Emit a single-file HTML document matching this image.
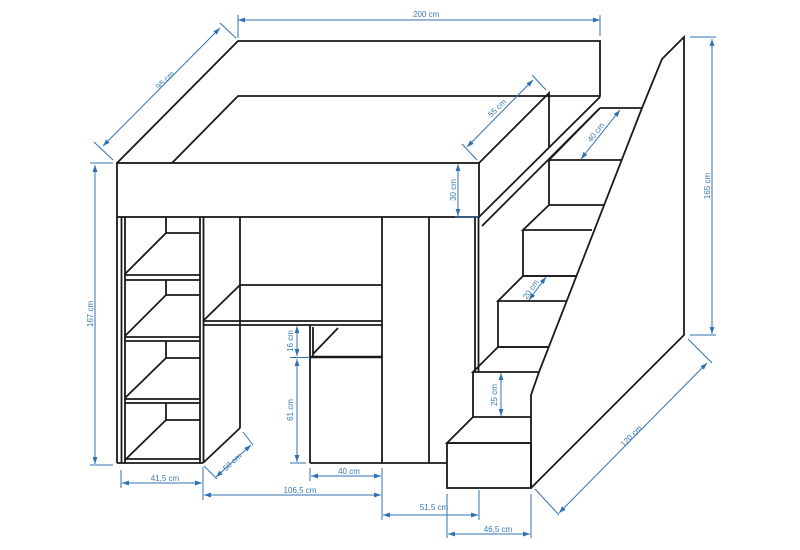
<!DOCTYPE html>
<html><head><meta charset="utf-8"><style>
html,body{margin:0;padding:0;background:#fff;}
svg{display:block;}
text{font-family:"Liberation Sans",sans-serif;font-size:8px;fill:#3a78b5;}
</style></head><body>
<svg width="800" height="550" viewBox="0 0 800 550" xmlns="http://www.w3.org/2000/svg">
<defs>
<marker id="a" viewBox="0 0 10 10" refX="10" refY="5" markerWidth="7" markerHeight="7" orient="auto-start-reverse"><path d="M0,1.5 L10,5 L0,8.5 Z" fill="#2f72b3"/></marker>
</defs>
<g fill="none" stroke="#1a1a1a" stroke-width="1.8" stroke-linejoin="miter">
<!-- top bed -->
<rect x="117" y="163" width="362" height="54"/>
<polyline points="117,163 238,41 600,41 600,96 238,96 172,163"/>
<polyline points="479,163 549,93 549,147"/>
<line x1="479" y1="217" x2="600" y2="97"/>
<line x1="482" y1="226" x2="600" y2="108"/>
<!-- stairs side -->
<polyline points="600,108 642,108 662,59 684,37 684,335 531,488"/>
<polyline points="642,108 539,372 531,395 531,488"/>
<!-- steps -->
<polyline points="600,108 549,160 622,160"/>
<polyline points="549,160 549,205 604,205"/>
<polyline points="549,205 523,230 592,230"/>
<polyline points="523,230 523,276 577,276"/>
<polyline points="577,276 548,276 523,276 498,301 567,301"/>
<polyline points="498,301 498,347 548,347"/>
<polyline points="548,347 498,347 473,372 539,372"/>
<polyline points="473,372 473,417 531,417"/>
<polyline points="473,417 447,443 531,443"/>
<rect x="447" y="443" width="84" height="45"/>
<line x1="475" y1="217" x2="475" y2="372"/>
<line x1="478.5" y1="217" x2="478.5" y2="372"/>
<!-- left shelf -->
<line x1="117" y1="217" x2="117" y2="463"/>
<line x1="121.5" y1="217" x2="121.5" y2="463"/>
<line x1="125" y1="217" x2="125" y2="463"/>
<line x1="200" y1="217" x2="200" y2="463"/>
<line x1="203.5" y1="217" x2="203.5" y2="463"/>
<line x1="117" y1="463" x2="203" y2="463"/>
<line x1="125" y1="459" x2="200" y2="459"/>
<line x1="125" y1="275" x2="200" y2="275"/><line x1="125" y1="280" x2="200" y2="280"/>
<line x1="125" y1="337" x2="200" y2="337"/><line x1="125" y1="341" x2="200" y2="341"/>
<line x1="125" y1="399" x2="200" y2="399"/><line x1="125" y1="403" x2="200" y2="403"/>
<polyline points="166,217 166,233 200,233"/><line x1="166" y1="233" x2="125" y2="274"/>
<polyline points="166,280 166,295 200,295"/><line x1="166" y1="295" x2="125" y2="336"/>
<polyline points="166,341 166,358 200,358"/><line x1="166" y1="358" x2="125" y2="398"/>
<polyline points="166,403 166,420 200,420"/><line x1="166" y1="420" x2="125" y2="460"/>
<!-- desk -->
<line x1="240" y1="217" x2="240" y2="428"/>
<line x1="240" y1="428" x2="203" y2="463"/>
<line x1="240" y1="285" x2="382" y2="285"/>
<line x1="240" y1="285" x2="203" y2="321"/>
<line x1="203" y1="321" x2="382" y2="321"/>
<line x1="203" y1="325" x2="382" y2="325"/>
<line x1="382" y1="217" x2="382" y2="463"/>
<line x1="429" y1="217" x2="429" y2="463"/>
<line x1="310" y1="325" x2="310" y2="463"/>
<line x1="313" y1="327" x2="313" y2="357"/>
<line x1="310" y1="357" x2="382" y2="357" stroke-width="2.6"/>
<line x1="338" y1="328" x2="313" y2="354"/>
<line x1="310" y1="463" x2="447" y2="463"/>
</g>
<g stroke="#2f72b3" stroke-width="1" fill="none">
<!-- 200 -->
<line x1="238" y1="20" x2="600" y2="20" marker-start="url(#a)" marker-end="url(#a)"/>
<line x1="238" y1="15" x2="238" y2="38"/><line x1="600" y1="15" x2="600" y2="36"/>
<!-- 95 -->
<line x1="103" y1="146" x2="220" y2="28" marker-start="url(#a)" marker-end="url(#a)"/>
<line x1="94" y1="142" x2="113" y2="160"/><line x1="220" y1="23" x2="236" y2="38"/>
<!-- 167 -->
<line x1="95" y1="165" x2="95" y2="464" marker-start="url(#a)" marker-end="url(#a)"/>
<line x1="90" y1="163" x2="113" y2="163"/><line x1="90" y1="465" x2="113" y2="465"/>
<!-- 30 -->
<line x1="458" y1="164" x2="458" y2="216" marker-start="url(#a)" marker-end="url(#a)"/>
<line x1="455" y1="217" x2="479" y2="217"/>
<!-- 55 -->
<line x1="467" y1="147" x2="533" y2="80" marker-start="url(#a)" marker-end="url(#a)"/>
<line x1="462" y1="144" x2="477" y2="160"/><line x1="532" y1="75" x2="546" y2="90"/>
<!-- 40 stairs -->
<line x1="581" y1="159" x2="620" y2="110" marker-start="url(#a)" marker-end="url(#a)"/>
<!-- 165 -->
<line x1="712" y1="39" x2="712" y2="334" marker-start="url(#a)" marker-end="url(#a)"/>
<line x1="690" y1="37" x2="716" y2="37"/><line x1="690" y1="335" x2="716" y2="335"/>
<!-- 20 -->
<line x1="529" y1="300" x2="546" y2="277" marker-start="url(#a)" marker-end="url(#a)"/>
<!-- 25 -->
<line x1="501" y1="373" x2="501" y2="416" marker-start="url(#a)" marker-end="url(#a)"/>
<!-- 120 -->
<line x1="559" y1="513" x2="707" y2="363" marker-start="url(#a)" marker-end="url(#a)"/>
<line x1="535" y1="489" x2="559" y2="515"/><line x1="688" y1="339" x2="712" y2="363"/>
<!-- 16 / 61 -->
<line x1="297" y1="326" x2="297" y2="356" marker-start="url(#a)" marker-end="url(#a)"/>
<line x1="297" y1="359" x2="297" y2="462" marker-start="url(#a)" marker-end="url(#a)"/>
<line x1="290" y1="357.5" x2="310" y2="357.5"/><line x1="290" y1="463" x2="306" y2="463"/>
<!-- 50 -->
<line x1="216" y1="477" x2="251" y2="445" marker-start="url(#a)" marker-end="url(#a)"/>
<line x1="204" y1="466" x2="217" y2="479"/><line x1="243" y1="432" x2="253" y2="445"/>
<!-- 41,5 -->
<line x1="122" y1="483" x2="202" y2="483" marker-start="url(#a)" marker-end="url(#a)"/>
<line x1="121" y1="470" x2="121" y2="488"/><line x1="203" y1="467" x2="203" y2="500"/>
<!-- 40 -->
<line x1="311" y1="476" x2="381" y2="476" marker-start="url(#a)" marker-end="url(#a)"/>
<line x1="310" y1="468" x2="310" y2="481"/>
<!-- 106,5 -->
<line x1="204" y1="495" x2="381" y2="495" marker-start="url(#a)" marker-end="url(#a)"/>
<line x1="382" y1="468" x2="382" y2="520"/>
<!-- 51,5 -->
<line x1="383" y1="515" x2="478" y2="515" marker-start="url(#a)" marker-end="url(#a)"/>
<line x1="479" y1="490" x2="479" y2="520"/>
<!-- 46,5 -->
<line x1="448" y1="534" x2="530" y2="534" marker-start="url(#a)" marker-end="url(#a)"/>
<line x1="447" y1="494" x2="447" y2="538"/><line x1="531" y1="494" x2="531" y2="538"/>
</g>
<g>
<text x="413" y="17">200 cm</text>
<text transform="translate(167,82) rotate(-45)" text-anchor="middle">95 cm</text>
<text transform="translate(93,314) rotate(-90)" text-anchor="middle">167 cm</text>
<text transform="translate(456,190) rotate(-90)" text-anchor="middle">30 cm</text>
<text transform="translate(499,110) rotate(-45)" text-anchor="middle">55 cm</text>
<text transform="translate(598,134) rotate(-52)" text-anchor="middle">40 cm</text>
<text transform="translate(710,186) rotate(-90)" text-anchor="middle">165 cm</text>
<text transform="translate(533,291) rotate(-55)" text-anchor="middle">20 cm</text>
<text transform="translate(497,395) rotate(-90)" text-anchor="middle">25 cm</text>
<text transform="translate(633,438) rotate(-45)" text-anchor="middle">120 cm</text>
<text transform="translate(293,341) rotate(-90)" text-anchor="middle">16 cm</text>
<text transform="translate(293,410) rotate(-90)" text-anchor="middle">61 cm</text>
<text transform="translate(234,464) rotate(-43)" text-anchor="middle">50 cm</text>
<text x="165" y="481" text-anchor="middle">41,5 cm</text>
<text x="349" y="474" text-anchor="middle">40 cm</text>
<text x="300" y="493" text-anchor="middle">106,5 cm</text>
<text x="434" y="510" text-anchor="middle">51,5 cm</text>
<text x="498" y="532" text-anchor="middle">46,5 cm</text>
</g>
</svg>
</body></html>
